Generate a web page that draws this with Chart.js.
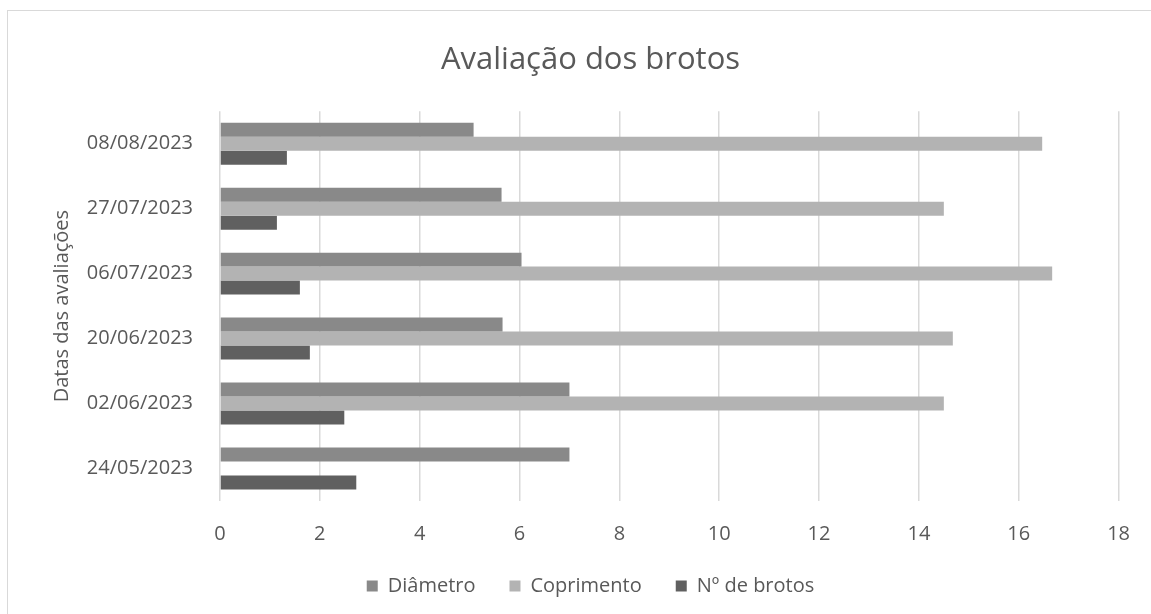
<!DOCTYPE html>
<html>
<head>
<meta charset="utf-8">
<script src="https://cdn.jsdelivr.net/npm/chart.js@4"></script>
<style>
  html, body { margin: 0; padding: 0; background: #fff; overflow: hidden; }
  #wrap { position: relative; width: 1151px; height: 614px; }
  #frame { position: absolute; left: 7px; top: 10px; width: 1200px; height: 700px;
           border: 1px solid #d9d9d9; pointer-events: none; }
  canvas { position: absolute; left: 0; top: 0; }
</style>
</head>
<body>
<div id="wrap">
  <canvas id="brotosChart" width="1151" height="614"></canvas>
  <div id="frame"></div>
</div>
<script>
// categorias de cima para baixo, como no gráfico
const datas = ['08/08/2023', '27/07/2023', '06/07/2023', '20/06/2023', '02/06/2023', '24/05/2023'];
const diametro = [5.08, 5.64, 6.04, 5.66, 7.0, 7.0];
const comprimento = [16.47, 14.5, 16.67, 14.68, 14.5, null];
const nBrotos = [1.34, 1.14, 1.6, 1.8, 2.49, 2.73];

const txtColor = '#595959';
const fontFamily = "'Open Sans', sans-serif";

let ctx = document.getElementById('brotosChart');

let chartInstance = new Chart(ctx, {
  type: 'bar',
  data: {
    labels: datas,
    datasets: [
      { label: 'Diâmetro', data: diametro, backgroundColor: '#898989' },
      { label: 'Coprimento', data: comprimento, backgroundColor: '#b3b3b3' },
      { label: 'Nº de brotos', data: nBrotos, backgroundColor: '#606060' }
    ]
  },
  options: {
    indexAxis: 'y',
    responsive: false,
    animation: false,
    categoryPercentage: 0.646,
    barPercentage: 1.0,
    layout: { padding: { left: 40, right: 10, top: 0, bottom: 8 } },
    plugins: {
      title: {
        display: true,
        text: 'Avaliação dos brotos',
        color: txtColor,
        font: { family: fontFamily, size: 31, weight: 'normal' },
        padding: { top: 42, bottom: 32 }
      },
      legend: {
        position: 'bottom',
        labels: {
          color: txtColor,
          font: { family: fontFamily, size: 20 },
          boxWidth: 11,
          boxHeight: 11,
          padding: 34
        }
      },
      tooltip: { enabled: false }
    },
    scales: {
      x: {
        min: 0,
        max: 18,
        ticks: { stepSize: 2, color: txtColor, font: { family: fontFamily, size: 20 }, padding: 21 },
        grid: { color: '#d9d9d9', lineWidth: 1.5, drawTicks: false },
        border: { display: false },
        afterFit: s => { s.height = 41; }
      },
      y: {
        ticks: { color: txtColor, font: { family: fontFamily, size: 20 }, padding: 27 },
        grid: { display: false, drawTicks: false },
        border: { display: false },
        title: {
          display: true,
          text: 'Datas das avaliações',
          color: txtColor,
          font: { family: fontFamily, size: 20 },
          padding: { top: 10, bottom: 0 }
        },
        afterFit: s => { s.width = 180; }
      }
    }
  }
});
</script>
</body>
</html>
